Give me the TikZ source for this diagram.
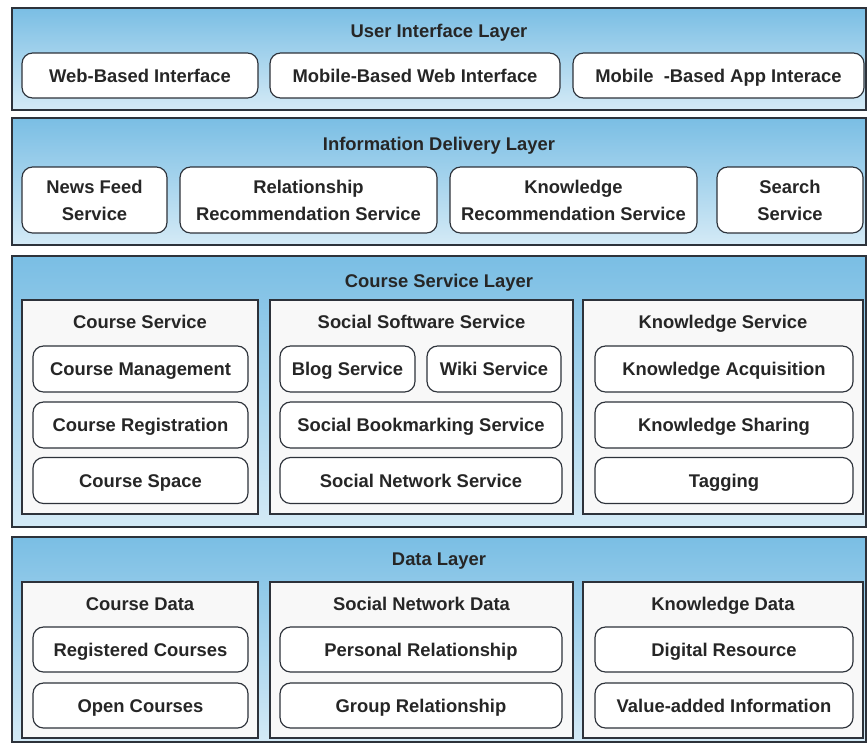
\documentclass[tikz,border=0pt]{standalone}
\usepackage{fontspec}
\setmainfont{Liberation Sans}
\definecolor{linecol}{RGB}{45,50,58}
\definecolor{skytop}{RGB}{122,190,228}
\definecolor{skymid}{RGB}{150,204,234}
\definecolor{skybot}{RGB}{212,234,246}
\definecolor{panelfill}{RGB}{248,248,248}
\definecolor{textcol}{RGB}{38,38,38}
\begin{document}
\begin{tikzpicture}[x=0.03cm,y=-0.03cm,font=\fontsize{15.7}{23}\selectfont\bfseries,text=textcol,
	layer/.style={draw=linecol,line width=1.6pt,top color=skytop,middle color=skymid,bottom color=skybot,minimum width=25.62cm,inner sep=0pt},
	panel/.style={draw=linecol,line width=1.1pt,fill=panelfill,inner sep=0pt},
	item2/.style={draw=linecol,line width=1pt,fill=white,rounded corners=9pt,align=center,inner sep=0pt},
	item/.style={item2,text height=1.15em,text depth=0.02em},
	title/.style={inner sep=0pt,text height=1.1em,text depth=0.24em}]
		\useasboundingbox[fill=white] (0,0) rectangle (867,744);
		% layers
		\node[layer,minimum height=3.06cm] (ui) at (439,59) {};
		\node[layer,minimum height=3.81cm] (delivery) at (439,181.5) {};
		\node[layer,minimum height=8.13cm] (course) at (439,391.5) {};
		\node[layer,minimum height=6.15cm] (data) at (439,639.5) {};
		\node[title] (uititle) at (439,32) {User Interface Layer};
		\node[title] (deltitle) at (439,145) {Information Delivery Layer};
		\node[title] (coursetitle) at (439,282) {Course Service Layer};
		\node[title] (datatitle) at (439,560) {Data Layer};
		% user interface layer
		\node[item,minimum width=7.08cm,minimum height=1.35cm] (web) at (140,75.5) {Web-Based Interface};
		\node[item,minimum width=8.7cm,minimum height=1.35cm] (mobweb) at (415,75.5) {Mobile-Based Web Interface};
		\node[item,minimum width=8.73cm,minimum height=1.35cm] (mobapp) at (718.5,75.5) {Mobile \ -Based App Interace};
		% information delivery layer
		\node[item2,minimum width=4.35cm,minimum height=1.98cm] (news) at (94.5,200) {News Feed\\Service};
		\node[item2,minimum width=7.71cm,minimum height=1.98cm] (relrec) at (308.5,200) {Relationship\\Recommendation Service};
		\node[item2,minimum width=7.41cm,minimum height=1.98cm] (knowrec) at (573.5,200) {Knowledge\\Recommendation Service};
		\node[item2,minimum width=4.38cm,minimum height=1.98cm] (search) at (790,200) {Search\\Service};
		% course service layer
		\node[panel,minimum width=7.08cm,minimum height=6.42cm] (cserv) at (140,407) {};
		\node[panel,minimum width=9.09cm,minimum height=6.42cm] (sserv) at (421.5,407) {};
		\node[panel,minimum width=8.4cm,minimum height=6.42cm] (kserv) at (723,407) {};
		\node[title] (cservtitle) at (140,323) {Course Service};
		\node[title] (sservtitle) at (421.5,323) {Social Software Service};
		\node[title] (kservtitle) at (723,323) {Knowledge Service};
		\node[item,minimum width=6.45cm,minimum height=1.38cm] (cmanage) at (140.5,369) {Course Management};
		\node[item,minimum width=6.45cm,minimum height=1.38cm] (cregist) at (140.5,425) {Course Registration};
		\node[item,minimum width=6.45cm,minimum height=1.38cm] (cspace) at (140.5,480.5) {Course Space};
		\node[item,minimum width=4.05cm,minimum height=1.38cm] (blog) at (347.5,369) {Blog Service};
		\node[item,minimum width=4.02cm,minimum height=1.38cm] (wiki) at (494,369) {Wiki Service};
		\node[item,minimum width=8.46cm,minimum height=1.38cm] (bookmark) at (421,425) {Social Bookmarking Service};
		\node[item,minimum width=8.46cm,minimum height=1.38cm] (snet) at (421,480.5) {Social Network Service};
		\node[item,minimum width=7.74cm,minimum height=1.38cm] (kacq) at (724,369) {Knowledge Acquisition};
		\node[item,minimum width=7.74cm,minimum height=1.38cm] (kshare) at (724,425) {Knowledge Sharing};
		\node[item,minimum width=7.74cm,minimum height=1.38cm] (tagging) at (724,480.5) {Tagging};
		% data layer
		\node[panel,minimum width=7.08cm,minimum height=4.68cm] (cdata) at (140,660) {};
		\node[panel,minimum width=9.09cm,minimum height=4.68cm] (sdata) at (421.5,660) {};
		\node[panel,minimum width=8.4cm,minimum height=4.68cm] (kdata) at (723,660) {};
		\node[title] (cdatatitle) at (140,605) {Course Data};
		\node[title] (sdatatitle) at (421.5,605) {Social Network Data};
		\node[title] (kdatatitle) at (723,605) {Knowledge Data};
		\node[item,minimum width=6.45cm,minimum height=1.35cm] (regc) at (140.5,649.5) {Registered Courses};
		\node[item,minimum width=6.45cm,minimum height=1.35cm] (openc) at (140.5,705.5) {Open Courses};
		\node[item,minimum width=8.46cm,minimum height=1.35cm] (prel) at (421,649.5) {Personal Relationship};
		\node[item,minimum width=8.46cm,minimum height=1.35cm] (grel) at (421,705.5) {Group Relationship};
		\node[item,minimum width=7.74cm,minimum height=1.35cm] (digres) at (724,649.5) {Digital Resource};
		\node[item,minimum width=7.74cm,minimum height=1.35cm] (vainfo) at (724,705.5) {Value-added Information};
	\end{tikzpicture}
\end{document}
